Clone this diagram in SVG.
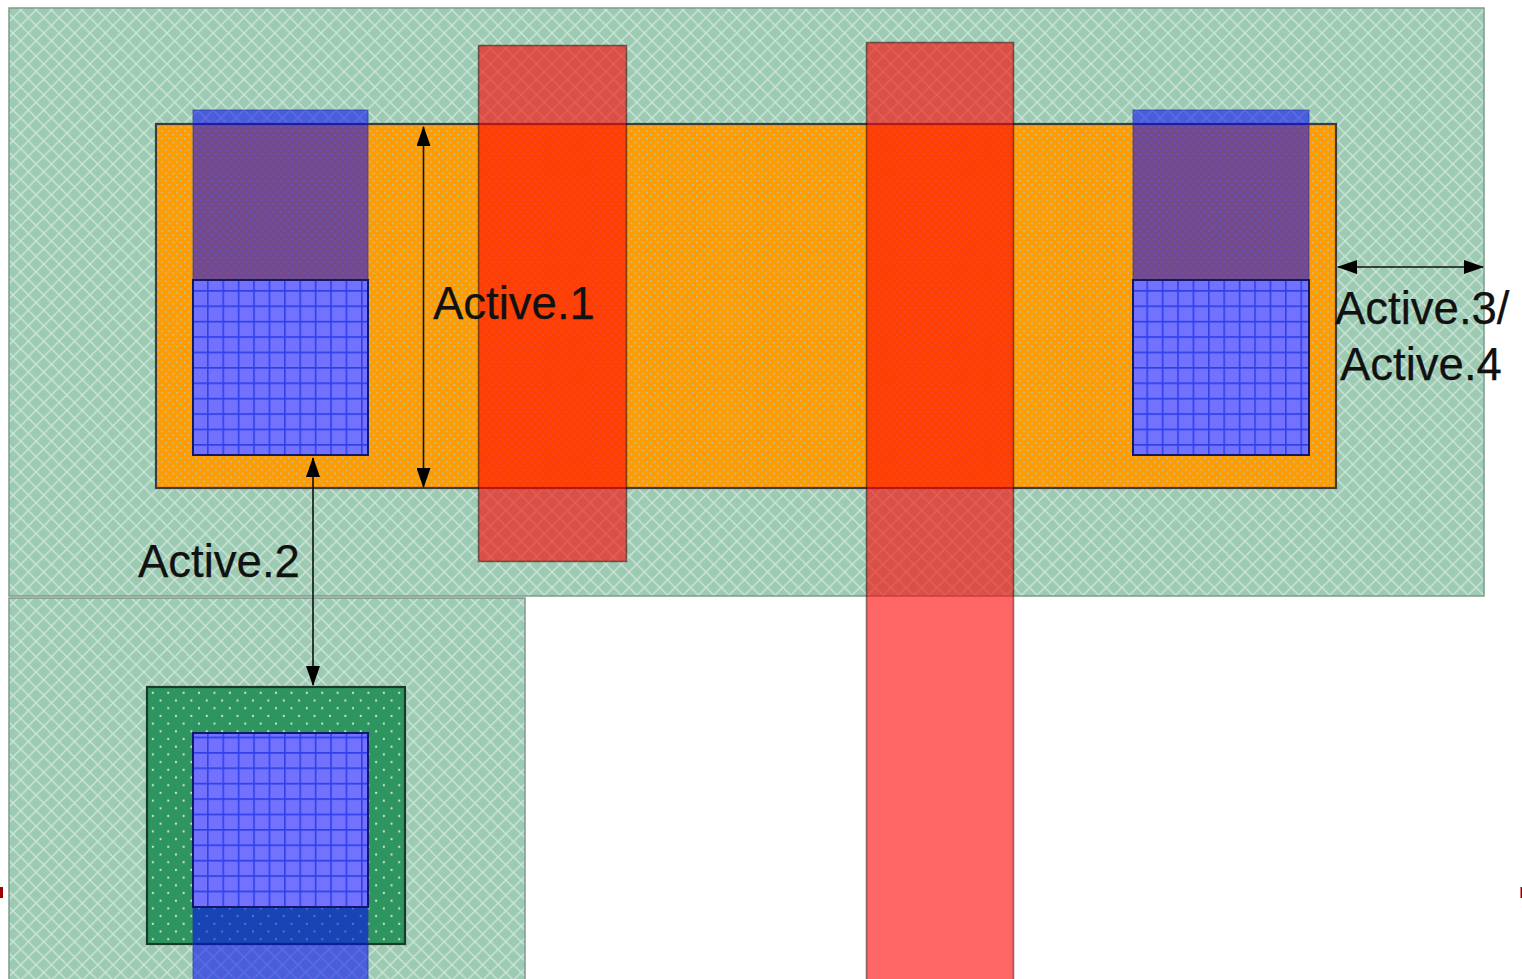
<svg xmlns="http://www.w3.org/2000/svg" width="1522" height="979" viewBox="0 0 1522 979">
<style>
.lattice{stroke:#7f9a8c;stroke-width:1.5}
.active{fill:url(#dotsOrange);stroke:#3c3c3c;stroke-width:2.2}
.implant{fill:url(#dotsGreen);stroke:#1c3a2a;stroke-width:2.2}
.metal{fill:#0505fa;fill-opacity:.55;stroke:#2a3aa0;stroke-opacity:.6;stroke-width:1.2}
.contact{fill:url(#grid);stroke:#10186a;stroke-width:2}
.poly{fill:#ff0000;fill-opacity:.6;stroke:#000;stroke-opacity:.45;stroke-width:1.6}
.dim{stroke:#111;stroke-width:1.6;fill:none;marker-start:url(#arrow);marker-end:url(#arrow)}
text{font-family:"Liberation Sans",Arial,sans-serif;font-size:45.5px;fill:#111;stroke:#111;stroke-width:.25}
</style>
<defs>
<pattern id="lattice" patternUnits="userSpaceOnUse" width="15.4" height="15.4" patternTransform="translate(20.7 10)">
<rect width="15.4" height="15.4" fill="#9ccab2"/>
<path d="M0 0L15.4 15.4M15.4 0L0 15.4" stroke="#fff" stroke-opacity=".5" stroke-width="1.4" fill="none"/>
</pattern>
<pattern id="dotsOrange" patternUnits="userSpaceOnUse" width="7.7" height="7.7" patternTransform="translate(2 2)">
<rect width="7.7" height="7.7" fill="#ff9c00"/>
<circle cx="1.9" cy="1.9" r="1" fill="#a9c3c6"/><circle cx="5.75" cy="5.75" r="1" fill="#a9c3c6"/>
</pattern>
<pattern id="dotsGreen" patternUnits="userSpaceOnUse" width="15.4" height="15.4" patternTransform="translate(149 689)">
<rect width="15.4" height="15.4" fill="#2e9560"/>
<circle cx="3.85" cy="3.85" r="1.1" fill="#cfe6da"/><circle cx="11.55" cy="11.55" r="1.1" fill="#cfe6da"/>
</pattern>
<pattern id="grid" patternUnits="userSpaceOnUse" width="15.4" height="15.4" patternTransform="translate(207 290)">
<rect width="15.4" height="15.4" fill="#7272ff"/>
<path d="M.7 0V15.4M0 .7H15.4" stroke="#2f40ea" stroke-width="1.8" fill="none"/>
</pattern>
<marker id="arrow" viewBox="0 0 20 14" refX="19" refY="7" markerWidth="20" markerHeight="14" markerUnits="userSpaceOnUse" orient="auto-start-reverse">
<path d="M0 0L20 7L0 14Z" fill="#000"/>
</marker>
</defs>
<g id="wells">
<rect id="well-top" class="lattice" x="9" y="8" width="1475" height="588" fill="url(#lattice)"/>
<rect id="well-bottom" class="lattice" x="9" y="598" width="516" height="392" fill="url(#lattice)"/>
</g>
<rect id="active-region" class="active" x="156" y="124" width="1180" height="364"/>
<rect id="implant-region" class="implant" x="147" y="687" width="258" height="257"/>
<g id="metals">
<rect id="metal-left" class="metal" x="193" y="110" width="175" height="172"/>
<rect id="metal-right" class="metal" x="1133" y="110" width="176" height="172"/>
<rect id="metal-bottom" class="metal" x="193" y="905" width="175" height="85"/>
</g>
<g id="contacts">
<rect id="contact-left" class="contact" x="193" y="280" width="175" height="175"/>
<rect id="contact-right" class="contact" x="1133" y="280" width="176" height="175"/>
<rect id="contact-bottom" class="contact" x="193" y="733" width="175" height="174"/>
</g>
<g id="polys">
<rect id="poly-left" class="poly" x="478.500" y="45.500" width="148" height="516"/>
<rect id="poly-right" class="poly" x="866.500" y="42.500" width="147" height="947"/>
</g>
<g id="ticks">
<rect x="0" y="887" width="3" height="11" fill="#a00000"/>
<rect x="1520.500" y="887" width="1.500" height="11" fill="#900000"/>
</g>
<g id="connectors">
<line class="dim" x1="423.500" y1="127" x2="423.500" y2="487"/>
<line class="dim" x1="313" y1="458" x2="313" y2="685"/>
<line class="dim" x1="1338" y1="267" x2="1483" y2="267"/>
</g>
<g id="labels">
<text x="433" y="319">Active.1</text>
<text x="138" y="577">Active.2</text>
<text x="1335" y="324">Active.3/</text>
<text x="1340" y="380">Active.4</text>
</g>
</svg>
